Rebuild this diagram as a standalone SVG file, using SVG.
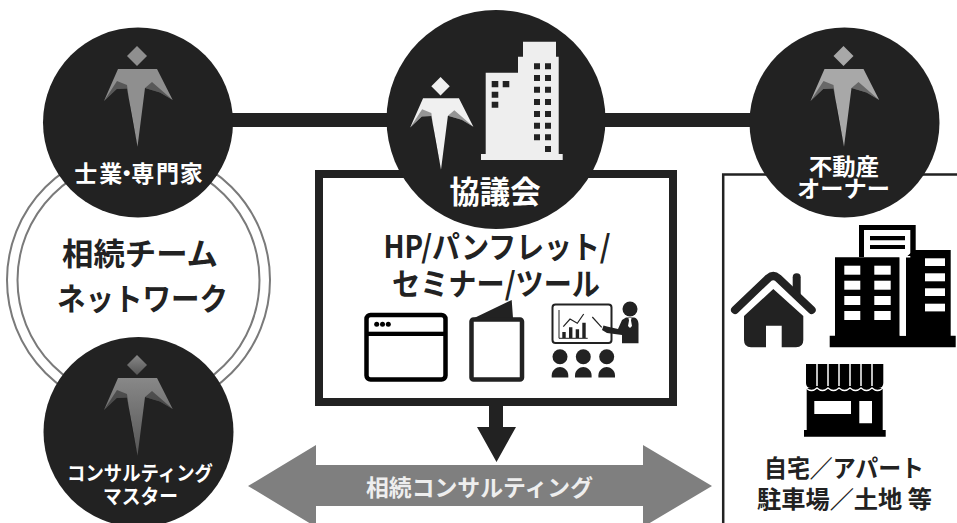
<svg xmlns="http://www.w3.org/2000/svg" xmlns:xlink="http://www.w3.org/1999/xlink" width="957" height="523" viewBox="0 0 957 523">
<style>
text{font-family:"Noto Sans CJK JP","Noto Sans",sans-serif;font-weight:700;text-anchor:middle}
.dk{fill:#222}.wh{fill:#fff}.blk{fill:#000}
.disc{fill:#222}.shade{fill:#000;fill-opacity:.38}
.ring{fill:none;stroke:#7a7a7a;stroke-width:2}
.win{fill:#222}
</style>
<defs>
<g id="person">
<path d="M127 56 137 46 147 56 137 66Z"/>
<path d="M118 69H157L172.700 100 160 92.500 145 88 137.500 146.700 127 88.500 116.700 89 104 101Z"/>
<path class="shade" d="M104 101 117 81 127 85 131 115 137.500 146.700 127 88.500 116.700 89ZM172.700 100 152 82 145 88 160 92.500Z"/>
</g>
<linearGradient id="fade" x1="0" y1="0" x2="0" y2="1"><stop offset="0" stop-color="#888"/><stop offset="1" stop-color="#555"/></linearGradient>
<path id="aud" d="M-8.300 10V8.500C-8.300 3-3.500 0 0 0S8.300 3 8.300 8.500V10.500H-8.300Z"/>
<g id="wrow"><rect x="844.300" width="16" height="9"/><rect x="874.300" width="16.400" height="9"/></g>
</defs>
<rect width="957" height="523" fill="#fff"/>

<g id="team-network">
<circle class="ring" cx="138.500" cy="280" r="131.500"/>
<circle class="ring" cx="138.500" cy="280" r="121"/>
<text class="dk" x="140" y="265" font-size="31" textLength="156" lengthAdjust="spacingAndGlyphs">相続チーム</text>
<text class="dk" x="142.500" y="310" font-size="31" textLength="171" lengthAdjust="spacingAndGlyphs">ネットワーク</text>
</g>

<g id="connectors">
<rect class="dk" x="225" y="113" width="530" height="14"/>
<path class="dk" d="M489 400H503V427H516L496.500 462 477 427H489Z"/>
<path fill="#7f7f7f" d="M248 486 316 445V465H643V445L712 486 643 527V506H316V527Z"/>
</g>

<g id="owner-box">
<path d="M723.200 523V174.500H957" fill="none" stroke="#222" stroke-width="2.500"/>
</g>

<g id="tools-box">
<rect x="319" y="174" width="354" height="228" fill="#fff" stroke="#222" stroke-width="8"/>
<text class="dk" x="497" y="258" font-size="31" textLength="227" lengthAdjust="spacingAndGlyphs">HP/パンフレット/</text>
<text class="dk" x="496" y="295" font-size="31" textLength="208" lengthAdjust="spacingAndGlyphs">セミナー/ツール</text>
<g id="icon-browser">
<rect x="366.500" y="315" width="79" height="64.500" rx="4" fill="#fff" stroke="#000" stroke-width="4.500"/>
<rect class="blk" x="366" y="331.700" width="80" height="4.300"/>
<circle class="blk" cx="376.700" cy="324.300" r="2.500"/><circle class="blk" cx="382.500" cy="324.300" r="2.500"/><circle class="blk" cx="388.300" cy="324.300" r="2.500"/>
</g>
<g id="icon-pamphlet">
<path class="dk" d="M470 320 511.700 300 513 318H519V325H470Z"/>
<rect x="471.500" y="319.500" width="50.500" height="60" rx="2" fill="#fff" stroke="#222" stroke-width="4.500"/>
</g>
<g id="icon-seminar">
<rect x="552.500" y="304.500" width="59" height="38.500" rx="3" fill="#fff" stroke="#222" stroke-width="2"/>
<path d="M559 310V338.300H587.700" fill="none" stroke="#222" stroke-width="1"/>
<path class="dk" d="M562.300 332h3.400v6h-3.400zM569 327.300h3.400V338H569zM575.700 329.300h3.400V338h-3.400zM582.300 322.700h3.400V338h-3.400z"/>
<path d="M563.300 326.700 570 319 577.300 323.300 583.700 314" fill="none" stroke="#222" stroke-width="1.200"/>
<path d="M592.300 317 601.700 327.300" stroke="#222" stroke-width="1.200"/>
<circle class="dk" cx="630" cy="309" r="7.500"/>
<path class="dk" d="M626 317.500H634C637 318 638.500 321 638.500 324V343.300H622V335L607 333 602 330 603.500 325.500 607 326.500 618 329 622 320Z"/>
<path class="wh" d="M628.500 318H631.500L631 320.500 632 326 630 328 628 326 629 320.500Z"/>
<circle class="dk" cx="560" cy="356.700" r="7.500"/><circle class="dk" cx="583.300" cy="356.700" r="7.500"/><circle class="dk" cx="606.700" cy="356.700" r="7.500"/>
<use href="#aud" x="560" y="367" class="dk"/><use href="#aud" x="583.300" y="367" class="dk"/><use href="#aud" x="606.700" y="367" class="dk"/>
</g>
</g>

<g id="consulting-label">
<text x="479.500" y="496" font-size="23" fill="#eee" textLength="227" lengthAdjust="spacingAndGlyphs">相続コンサルティング</text>
</g>

<g id="node-experts">
<circle class="disc" cx="138" cy="122.500" r="95"/>
<use href="#person" fill="#8f8f8f"/>
<text class="wh" x="85.800 110.800 126.700 142.800 167.500 191.200" y="181.500" font-size="23">士業・専門家</text>
</g>

<g id="node-master">
<circle class="disc" cx="138.500" cy="432" r="95"/>
<use href="#person" y="309" fill="url(#fade)"/>
<text class="wh" x="140" y="481" font-size="20" textLength="146" lengthAdjust="spacingAndGlyphs">コンサルティング</text>
<text class="wh" x="140.500" y="504" font-size="20" textLength="75" lengthAdjust="spacingAndGlyphs">マスター</text>
</g>

<g id="node-council">
<circle class="disc" cx="496" cy="119.500" r="109.500"/>
<use href="#person" transform="translate(314.500 34.700) scale(.92)" fill="#f0f0f0"/>
<path fill="#eee" d="M523 41.700H556V56.700H558.700V154H562.700V160H481V154H485.700V72.700H518V56.700H523Z"/>
<g class="win">
<path d="M534 63.300h6v6h-6zM545 63.300h6v6h-6zM534 75h6v6h-6zM545 75h6v6h-6zM534 86.700h6v6h-6zM545 86.700h6v6h-6zM534 99h6v6h-6zM545 99h6v6h-6zM534 111h6v6h-6zM545 111h6v6h-6zM534 122.700h6v6h-6zM545 122.700h6v6h-6zM534 134.300h6v6h-6zM545 134.300h6v6h-6zM545 146h6v6h-6z"/>
<path d="M491.700 81h6.600v6.300h-6.600zM502.700 81h6.600v6.300h-6.600zM491.700 91.700h6.600v6h-6.600zM491.700 101.700h6.600v6h-6.600z"/>
</g>
<text class="wh" x="495" y="203" font-size="31" textLength="91" lengthAdjust="spacingAndGlyphs">協議会</text>
</g>

<g id="node-owner">
<circle class="disc" cx="844.500" cy="122.500" r="95"/>
<use href="#person" x="706.500" fill="#a8a8a8"/>
<text class="wh" x="844" y="175" font-size="23" textLength="70" lengthAdjust="spacingAndGlyphs">不動産</text>
<text class="wh" x="843.500" y="197" font-size="23" textLength="93" lengthAdjust="spacingAndGlyphs">オーナー</text>
</g>

<g id="assets">
<g id="icon-house">
<path d="M796.700 294V277.300" stroke="#222" stroke-width="8" stroke-linecap="round"/>
<path d="M735 310 768.500 278Q773.300 274 778 278L811.700 310" fill="none" stroke="#222" stroke-width="8" stroke-linecap="round" stroke-linejoin="round"/>
<path class="dk" d="M773.300 289 803.300 316V340Q803.300 347.300 796 347.300H781.700V325.700H766V347.300H751Q744 347.300 744 340V316Z"/>
</g>
<g id="icon-office">
<path class="blk" d="M859 225H915.700V257H859Z"/>
<rect class="wh" x="864" y="230" width="46.300" height="27"/>
<path class="blk" d="M870 236h35v4.300h-35zM870 245h35v4h-35z"/>
<path class="blk" d="M835 257.300H899.700V335.700H906V257.300L914 250H950.700V335.700H955.700V347.300H829.700V335.700H835Z"/>
<rect class="wh" x="899.700" y="257" width="6.300" height="78.700"/>
<rect class="wh" x="899.700" y="256" width="10.600" height="1.500"/>
<g class="wh">
<use href="#wrow" y="265.700"/><use href="#wrow" y="280.700"/><use href="#wrow" y="296"/><use href="#wrow" y="311"/>
<rect x="925" y="258.300" width="20" height="7.700"/><rect x="925" y="273.300" width="20" height="8"/><rect x="925" y="288.300" width="20" height="7.700"/><rect x="925" y="303.700" width="20" height="7.700"/>
</g>
</g>
<g id="icon-store">
<path class="blk" d="M806.700 388H882.700V430H885.700V436.700H804V430H806.700Z"/>
<path d="M806 364H883.300V383Q883.300 388 878.300 388H811Q806 388 806 383Z" class="blk"/>
<path d="M806 388Q811.500 393 817 388 822.500 393 828 388 833.500 393 839 388 844.500 393 850 388 855.500 393 861 388 866.500 393 872 388 877.500 393 883 388" fill="none" stroke="#fff" stroke-width="1.400"/>
<path d="M817 364V386M828 364V386M839 364V386M850 364V386M861 364V386M872 364V386" stroke="#fff" stroke-width="1.500"/>
<path class="wh" d="M814.300 401H851V414H814.300ZM859.300 401H872V423.300H859.300Z"/>
</g>
<text class="dk" x="844" y="476.700" font-size="24" textLength="160" lengthAdjust="spacingAndGlyphs">自宅／アパート</text>
<text class="dk" x="844.500" y="508" font-size="24" textLength="175" lengthAdjust="spacingAndGlyphs">駐車場／土地 等</text>
</g>
</svg>
